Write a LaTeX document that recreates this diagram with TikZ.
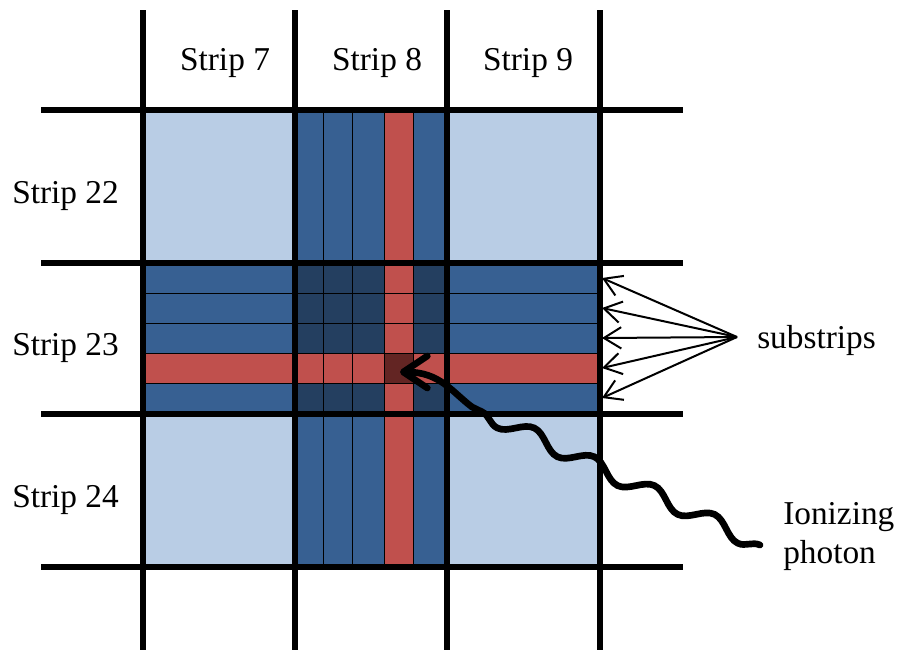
\documentclass[tikz,border=0pt]{standalone}
\usepackage{fontspec}
\setmainfont{Liberation Serif}
\usetikzlibrary{arrows.meta,decorations.pathmorphing}

\definecolor{paleblue}{HTML}{B9CDE5}
\definecolor{stripblue}{HTML}{376092}
\definecolor{stripred}{HTML}{C0504D}
\definecolor{overlapblue}{HTML}{243F60}
\definecolor{hitred}{HTML}{632523}

\begin{document}
\begin{tikzpicture}[x = 0.75pt, y = -0.75pt,
		gridline/.style = {line width = 4.5pt},
		subline/.style = {line width = 0.75pt},
		striplabel/.style = {font = \fontsize{25}{26.5}\selectfont},
		pointer/.style = {line width = 1.5pt,
			-{Straight Barb[length = 13pt, width = 16pt]}},
		photonline/.style = {line width = 5pt, line cap = round}]

	\useasboundingbox (0,0) rectangle (898,650);

	% strip areas
	\fill [paleblue] (143,110) rectangle (600,567);
	\fill [stripblue] (295,110) rectangle (447,567);
	\fill [stripblue] (143,263) rectangle (600,414);
	\fill [overlapblue] (295,263) rectangle (447,414);
	\fill [stripred] (384,110) rectangle (413,567);
	\fill [stripred] (143,353) rectangle (600,383);
	\fill [hitred] (384,353) rectangle (413,383);

	% substrip borders
	\foreach \x in {323,352,384,413}
		\draw [subline] (\x,110) -- (\x,567);
	\foreach \y in {293,323,353,383}
		\draw [subline] (143,\y) -- (600,\y);

	% strip borders
	\foreach \x in {143,295,447,600}
		\draw [gridline] (\x,10) -- (\x,650);
	\foreach \y in {110,263,414,567}
		\draw [gridline] (41,\y) -- (683,\y);

	\node [striplabel, anchor = base] (s_7) at (225,70) {Strip 7};
	\node [striplabel, anchor = base] (s_8) at (377,70) {Strip 8};
	\node [striplabel, anchor = base] (s_9) at (528,70) {Strip 9};
	\node [striplabel, anchor = base west, inner sep = 0pt] (s_22) at (12,203) {Strip 22};
	\node [striplabel, anchor = base west, inner sep = 0pt] (s_23) at (12,355) {Strip 23};
	\node [striplabel, anchor = base west, inner sep = 0pt] (s_24) at (12,507) {Strip 24};

	% substrips
	\node [striplabel, anchor = base west, inner sep = 0pt] (substrips) at (757,348) {substrips};
	\coordinate (apex) at (737,337);
	\foreach \y [count = \i] in {278,308,338,368,398} {
		\coordinate (sub_\i) at (602,\y);
		\draw [pointer] (apex) -- (sub_\i);
	}

	% photon
	\node [striplabel, align = left, anchor = north west, inner sep = 0pt] (photon) at (783,502) {Ionizing\\[3pt]photon};
	\coordinate (wave_start) at (760,545);
	\coordinate (wave_end) at (472,407);
	\coordinate (hit) at (400,372);
	\draw [photonline, decorate, decoration = {snake, segment length = 50pt, amplitude = 6pt}]
		(wave_start) -- (wave_end);
	\draw [photonline, -{Straight Barb[length = 18pt, width = 24pt, round]}]
		(wave_end) .. controls (452,392) and (440,372) .. (hit);
\end{tikzpicture}
\end{document}
